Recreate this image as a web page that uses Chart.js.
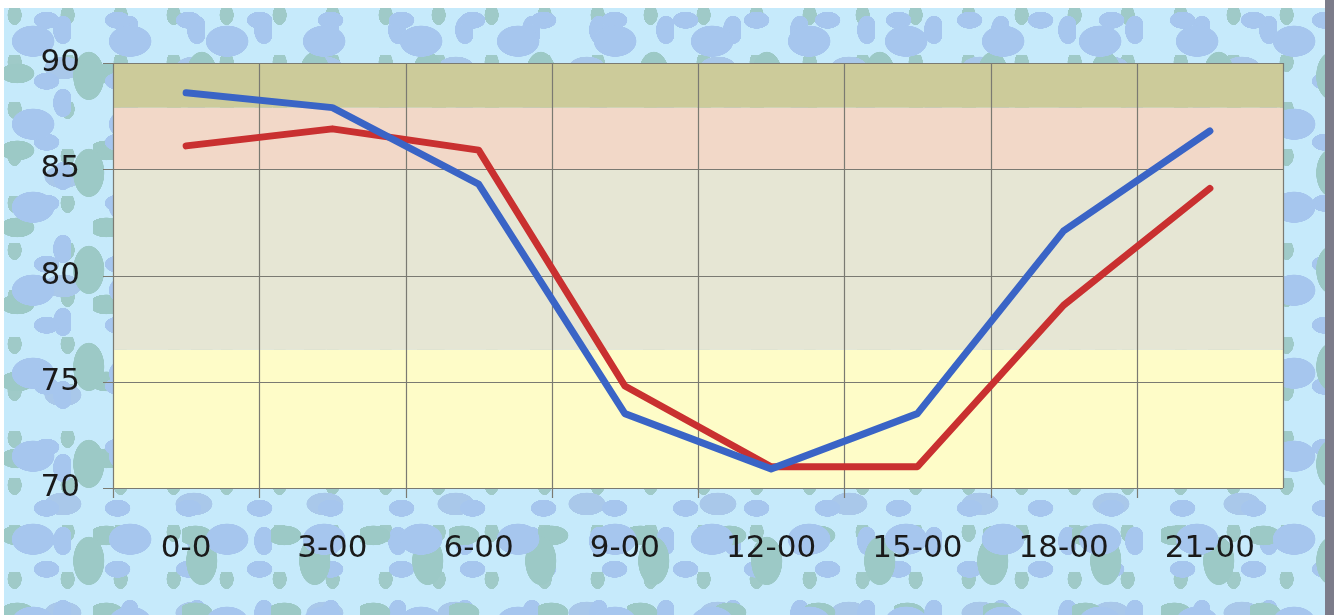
<!DOCTYPE html>
<html>
<head>
<meta charset="utf-8">
<script src="https://cdn.jsdelivr.net/npm/chart.js@4"></script>
<style>
  html, body { margin: 0; padding: 0; background: #fff; }
  #wrap {
    position: absolute; left: 4px; top: 8px; width: 1321px; height: 607px;
    background-color: #c6eafb;
    background-image:
      radial-gradient(ellipse 30px 22px at 30% 40%, #a6c6ee 70%, transparent 72%),
      radial-gradient(ellipse 22px 34px at 75% 70%, #9cc9c6 70%, transparent 72%),
      radial-gradient(ellipse 18px 12px at 60% 20%, #a6c6ee 70%, transparent 72%),
      radial-gradient(ellipse 24px 14px at 15% 85%, #9cc9c6 70%, transparent 72%),
      radial-gradient(ellipse 14px 20px at 88% 30%, #a6c6ee 70%, transparent 72%),
      radial-gradient(ellipse 26px 16px at 45% 55%, #a9c8ea 70%, transparent 72%),
      radial-gradient(ellipse 10px 14px at 20% 15%, #9fcac8 70%, transparent 72%);
    background-size: 97px 83px, 113px 97px, 71px 61px, 89px 77px, 67px 73px, 131px 109px, 53px 47px;
  }
  #edge { position: absolute; left: 1325px; top: 0; width: 9px; height: 615px; background: #7c7c8a; }
  canvas { position: absolute; left: 0; top: 0; }
</style>
</head>
<body>
<div id="wrap"></div>
<div id="edge"></div>
<canvas id="c" width="1334" height="615"></canvas>
<script>
const labels = ['0-0', '3-00', '6-00', '9-00', '12-00', '15-00', '18-00', '21-00'];
const blueSeries = [88.6, 87.9, 84.3, 73.5, 70.9, 73.5, 82.1, 86.8];
const redSeries = [86.1, 86.9, 85.9, 74.8, 71.0, 71.0, 78.6, 84.1];
const yTicks = [70, 75, 80, 85, 90];
// colour bands, bottom to top
const bandLimits = [70, 76.5, 85, 87.9, 90];
const bandColors = ['#fefcc8', '#e6e6d4', '#f2d8c8', '#cccb9a'];

const bands = {
  id: 'bands',
  beforeDatasetsDraw(chart) {
    const { ctx, chartArea: a, scales: { y } } = chart;
    ctx.save();
    for (let i = 0; i < bandColors.length; i++) {
      const top = y.getPixelForValue(bandLimits[i + 1]);
      const bot = y.getPixelForValue(bandLimits[i]);
      ctx.fillStyle = bandColors[i];
      ctx.fillRect(a.left, top, a.right - a.left, bot - top);
    }
    ctx.restore();
  }
};

const grid = {
  id: 'gridOver',
  beforeDatasetsDraw(chart) {
    const { ctx, chartArea: a, scales: { x, y } } = chart;
    ctx.save();
    ctx.strokeStyle = '#7a7a72';
    ctx.lineWidth = 1.2;
    yTicks.forEach(v => {
      const py = Math.round(y.getPixelForValue(v)) + 0.5;
      ctx.beginPath(); ctx.moveTo(a.left - 10, py); ctx.lineTo(a.right, py); ctx.stroke();
    });
    const step = (a.right - a.left) / labels.length;
    for (let i = 0; i <= labels.length; i++) {
      const px = Math.round(x.getPixelForValue(i) - step / 2) + 0.5;
      ctx.beginPath(); ctx.moveTo(px, a.top); ctx.lineTo(px, a.bottom + (i < labels.length ? 10 : 0)); ctx.stroke();
    }
    ctx.restore();
  }
};

const font = { family: 'DejaVu Sans', size: 31 };

new Chart(document.getElementById('c'), {
  type: 'line',
  data: {
    labels,
    datasets: [
      { label: 'A', data: blueSeries, borderColor: '#3a64c6', borderWidth: 7, pointRadius: 0, tension: 0, borderJoinStyle: 'round', borderCapStyle: 'round' },
      { label: 'B', data: redSeries, borderColor: '#c93030', borderWidth: 7, pointRadius: 0, tension: 0, borderJoinStyle: 'round', borderCapStyle: 'round' }
    ]
  },
  options: {
    responsive: false,
    animation: false,
    layout: { padding: { left: 20, right: 51, top: 63, bottom: 0 } },
    plugins: { legend: { display: false }, tooltip: { enabled: false } },
    scales: {
      x: {
        offset: true,
        grid: { display: false },
        border: { display: false },
        ticks: { color: '#1a1a1a', font, padding: 34, maxRotation: 0 },
        afterFit: s => { s.height = 127; }
      },
      y: {
        min: 70, max: 90,
        afterBuildTicks: s => { s.ticks = yTicks.map(v => ({ value: v })); },
        grid: { display: false },
        border: { display: false },
        ticks: { color: '#1a1a1a', font, padding: 25 },
        afterFit: s => { s.width = 93; }
      }
    }
  },
  plugins: [bands, grid]
});
</script>
</body>
</html>
